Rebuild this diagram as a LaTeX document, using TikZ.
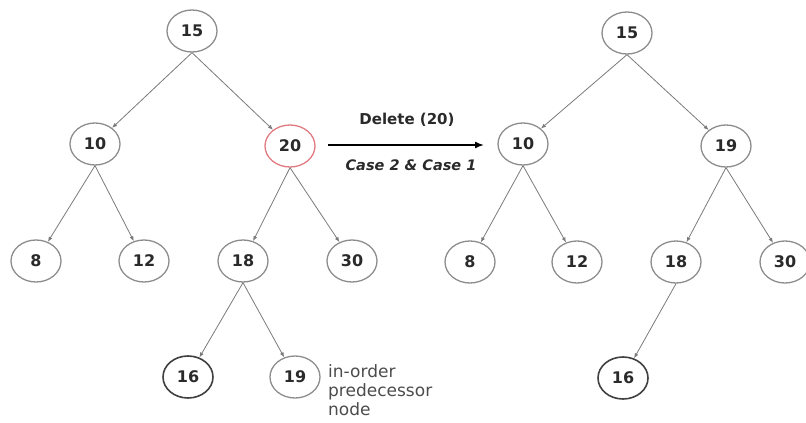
\documentclass[tikz,border=0pt]{standalone}
\usepackage{fontspec}
\setmainfont{DejaVu Sans}
\usetikzlibrary{arrows.meta,shapes.geometric}
\definecolor{edgegray}{HTML}{7A7A7A}
\definecolor{ringgray}{HTML}{8C8C8C}
\definecolor{textdark}{HTML}{2A2A2A}
\definecolor{ringred}{HTML}{E07A80}
\tikzset{
  bnode/.style={ellipse, draw=ringgray, line width=1.3pt, minimum width=50pt, minimum height=42pt, inner sep=0pt, font=\fontsize{16}{18}\selectfont\bfseries, text=textdark},
  darknode/.style={bnode, draw=black!75, line width=1.6pt},
  rednode/.style={bnode, draw=ringred},
  edge/.style={draw=edgegray, line width=0.8pt, -{Latex[length=5pt,width=4pt]}},
}
\begin{document}
\begin{tikzpicture}[x=1pt,y=-1pt]
\useasboundingbox (0,0) rectangle (806,423);
% left tree
\node[bnode] (a15) at (192,31) {15};
\node[bnode] (a10) at (95,144) {10};
\node[rednode] (a20) at (290,146) {20};
\node[bnode] (a8) at (36,261) {8};
\node[bnode] (a12) at (144,261) {12};
\node[bnode] (a18) at (243,261) {18};
\node[bnode] (a30) at (352,261) {30};
\node[darknode] (a16) at (188,377) {16};
\node[bnode] (a19) at (295,377) {19};
\node[anchor=north west, align=left, text=black!70, font=\fontsize{17}{19}\selectfont, inner sep=0pt] (lbl) at (328,364) {in-order\\predecessor\\node};
\draw[edge] (a15.south) -- (a10);
\draw[edge] (a15.south) -- (a20);
\draw[edge] (a10.south) -- (a8);
\draw[edge] (a10.south) -- (a12);
\draw[edge] (a20.south) -- (a18);
\draw[edge] (a20.south) -- (a30);
\draw[edge] (a18.south) -- (a16);
\draw[edge] (a18.south) -- (a19);
% arrow
\coordinate (ps) at (328,145);
\coordinate (pe) at (484,145);
\draw[black, line width=1.5pt, -{Latex[length=9pt,width=7pt]}] (ps) -- (pe);
\node[font=\fontsize{15}{17}\selectfont\bfseries, text=textdark] (t1) at (407,120) {Delete (20)};
\node[font=\fontsize{14.5}{17}\selectfont\bfseries\itshape, text=textdark] (t2) at (411,165) {Case 2 \& Case 1};
% right tree
\node[bnode] (b15) at (627,33) {15};
\node[bnode] (b10) at (523,144) {10};
\node[bnode] (b19) at (726,146) {19};
\node[bnode] (b8) at (470,262) {8};
\node[bnode] (b12) at (577,262) {12};
\node[bnode] (b18) at (676,262) {18};
\node[bnode] (b30) at (785,262) {30};
\node[darknode] (b16) at (623,378) {16};
\draw[edge] (b15.south) -- (b10);
\draw[edge] (b15.south) -- (b19);
\draw[edge] (b10.south) -- (b8);
\draw[edge] (b10.south) -- (b12);
\draw[edge] (b19.south) -- (b18);
\draw[edge] (b19.south) -- (b30);
\draw[edge] (b18.south) -- (b16);
\end{tikzpicture}
\end{document}
